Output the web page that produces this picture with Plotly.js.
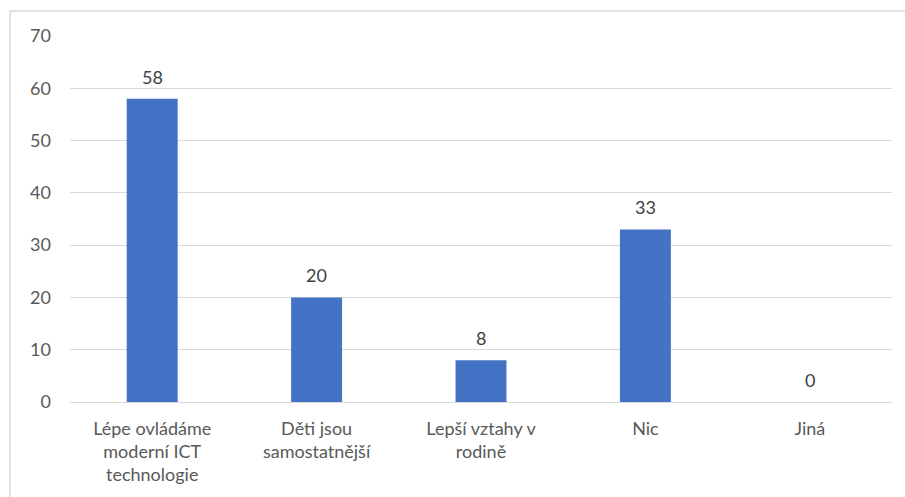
<!DOCTYPE html>
<html><head><meta charset="utf-8">
<script src="https://cdn.plot.ly/plotly-3.0.1.min.js"></script>
<style>html,body{margin:0;padding:0;background:#fff}#c{width:905px;height:497px}</style>
</head><body><div id="c"></div>
<script>
const categories = ["Lépe ovládáme<br>moderní ICT<br>technologie", "Děti jsou<br>samostatnější", "Lepší vztahy v<br>rodině", "Nic", "Jiná"];
const values = [58, 20, 8, 33, 0];
const yTicks = [0, 10, 20, 30, 40, 50, 60, 70];

const font = "Lato, 'Open Sans', sans-serif";
Plotly.newPlot("c", [{
  type: "bar",
  x: categories,
  y: values,
  marker: {color: "#4472C4"},
  hoverinfo: "none"
}], {
  width: 905, height: 497,
  margin: {l: 70, r: 13, t: 36, b: 95},
  paper_bgcolor: "#fff", plot_bgcolor: "#fff",
  bargap: 0.69,
  showlegend: false,
  font: {family: font, size: 18, color: "#595959"},
  xaxis: {showgrid: false, zeroline: false, showline: true, linecolor: "#d9d9d9", linewidth: 1,
          ticks: "", ticklabelstandoff: 10, tickfont: {family: font, size: 18, color: "#595959"}, automargin: false},
  yaxis: {range: [0, 70], tickvals: yTicks, showgrid: true, gridcolor: "#d9d9d9", gridwidth: 1,
          zeroline: false, showline: false, ticks: "", ticklabelstandoff: 18,
          tickfont: {family: font, size: 18, color: "#595959"}, automargin: false},
  annotations: categories.map((c, i) => ({
    x: c, y: values[i], xref: "x", yref: "y", text: String(values[i]),
    showarrow: false, yanchor: "bottom", yshift: 9,
    font: {family: font, size: 18, color: "#404040"}
  })),
  shapes: [{type: "rect", xref: "paper", yref: "paper", x0: -0.073, x1: 1.1, y0: -0.5, y1: 1.068,
            line: {color: "#d9d9d9", width: 1.5}, fillcolor: "rgba(0,0,0,0)", layer: "below"}]
}, {staticPlot: true});
</script></body></html>
